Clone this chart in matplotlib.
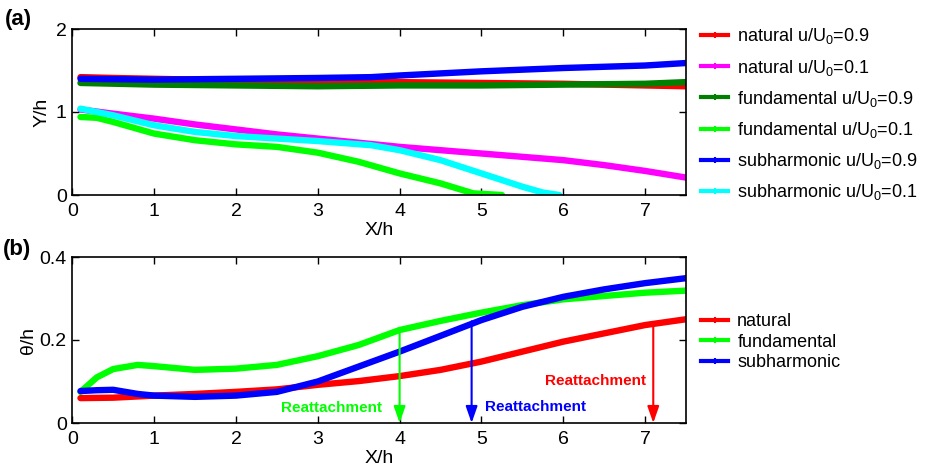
import matplotlib
matplotlib.use("Agg")
import matplotlib.pyplot as plt
from matplotlib.lines import Line2D

plt.rcParams['font.family'] = ['Liberation Sans', 'DejaVu Sans']
plt.rcParams['mathtext.fontset'] = 'custom'
plt.rcParams['mathtext.rm'] = 'Liberation Sans'
plt.rcParams['mathtext.it'] = 'Liberation Sans:italic'

# ---------------- data panel (a) ----------------
xa_nat09 = [0.1, 0.5, 1, 2, 3, 4, 5, 6, 6.5, 7, 7.5]
ya_nat09 = [1.42, 1.41, 1.40, 1.38, 1.37, 1.36, 1.35, 1.34, 1.33, 1.32, 1.31]

xa_nat01 = [0.1, 0.5, 1, 1.5, 2, 2.5, 3, 3.5, 4, 4.5, 5, 5.5, 6, 6.5, 7, 7.5]
ya_nat01 = [1.03, 0.98, 0.92, 0.85, 0.79, 0.73, 0.68, 0.63, 0.58, 0.54, 0.50, 0.46, 0.42, 0.36, 0.29, 0.21]

xa_fun09 = [0.1, 1, 2, 3, 4, 5, 6, 7, 7.5]
ya_fun09 = [1.35, 1.33, 1.32, 1.31, 1.32, 1.32, 1.33, 1.34, 1.36]

xa_fun01 = [0.1, 0.3, 0.5, 1, 1.5, 2, 2.5, 3, 3.5, 4, 4.5, 4.9, 5.25]
ya_fun01 = [0.94, 0.93, 0.88, 0.74, 0.66, 0.61, 0.58, 0.51, 0.40, 0.26, 0.14, 0.02, 0.0]

xa_sub09 = [0.1, 1, 2, 3, 3.65, 4, 5, 6, 7, 7.5]
ya_sub09 = [1.40, 1.39, 1.40, 1.41, 1.42, 1.44, 1.49, 1.53, 1.56, 1.59]

xa_sub01 = [0.1, 0.5, 1, 1.5, 2, 2.5, 3, 3.65, 4, 4.5, 5, 5.5, 5.75, 5.95]
ya_sub01 = [1.04, 0.96, 0.84, 0.76, 0.71, 0.68, 0.65, 0.60, 0.54, 0.42, 0.26, 0.10, 0.03, 0.0]

# ---------------- data panel (b) ----------------
xb_nat = [0.1, 0.5, 1, 1.5, 2, 2.5, 3, 3.5, 4, 4.5, 5, 5.5, 6, 6.5, 7, 7.5]
yb_nat = [0.060, 0.061, 0.066, 0.070, 0.075, 0.081, 0.092, 0.101, 0.113, 0.128, 0.148, 0.172, 0.196, 0.216, 0.236, 0.250]

xb_fun = [0.1, 0.3, 0.5, 0.8, 1, 1.5, 2, 2.5, 3, 3.5, 4, 4.5, 5, 5.5, 6, 6.5, 7, 7.5]
yb_fun = [0.075, 0.110, 0.130, 0.140, 0.137, 0.128, 0.131, 0.140, 0.161, 0.188, 0.224, 0.246, 0.266, 0.284, 0.298, 0.306, 0.314, 0.319]

xb_sub = [0.1, 0.3, 0.5, 0.8, 1, 1.5, 2, 2.5, 3, 3.5, 4, 4.5, 5, 5.5, 6, 6.5, 7, 7.5]
yb_sub = [0.077, 0.079, 0.080, 0.070, 0.066, 0.063, 0.066, 0.075, 0.100, 0.136, 0.172, 0.210, 0.248, 0.280, 0.304, 0.322, 0.337, 0.349]

reattach_x = [4.0, 4.88, 7.1]
reattach_y = [0.222, 0.245, 0.235]
reattach_colors = ['#00ff00', '#0000ff', '#ff0000']

labels_a = ['natural u/U$_0$=0.9', 'natural u/U$_0$=0.1',
            'fundamental u/U$_0$=0.9', 'fundamental u/U$_0$=0.1',
            'subharmonic u/U$_0$=0.9', 'subharmonic u/U$_0$=0.1']
colors_a = ['#ff0000', '#ff00ff', '#007f00', '#00ff00', '#0000ff', '#00ffff']
labels_b = ['natural', 'fundamental', 'subharmonic']
colors_b = ['#ff0000', '#00ff00', '#0000ff']

fig = plt.figure(figsize=(9.35, 4.67), dpi=100)
L, R = 72.3 / 935, 686 / 935
axa = fig.add_axes([L, 1 - 195 / 467, R - L, 166 / 467])
axb = fig.add_axes([L, 1 - 423 / 467, R - L, 166 / 467])

LW = 4.6
series_a = [(xa_nat09, ya_nat09), (xa_nat01, ya_nat01), (xa_fun09, ya_fun09),
            (xa_fun01, ya_fun01), (xa_sub09, ya_sub09), (xa_sub01, ya_sub01)]
draw_order = [1, 3, 5, 0, 2, 4]
for i in draw_order:
    x, y = series_a[i]
    axa.plot(x, y, color=colors_a[i], lw=LW, solid_capstyle='round',
             solid_joinstyle='round', label=labels_a[i])

series_b = [(xb_nat, yb_nat), (xb_fun, yb_fun), (xb_sub, yb_sub)]
for i, (x, y) in enumerate(series_b):
    axb.plot(x, y, color=colors_b[i], lw=LW, solid_capstyle='round',
             solid_joinstyle='round', label=labels_b[i])

for xr, yr, c in zip(reattach_x, reattach_y, reattach_colors):
    axb.annotate('', xy=(xr, 0.0), xytext=(xr, yr),
                 arrowprops=dict(arrowstyle='-|>,head_length=1.0,head_width=0.35',
                                 color=c, lw=1.5, shrinkA=0, shrinkB=0))

axb.text(3.78, 0.036, 'Reattachment', color='#00ff00', fontsize=11, fontweight='bold',
         ha='right', va='center')
axb.text(5.04, 0.038, 'Reattachment', color='#0000ff', fontsize=11, fontweight='bold',
         ha='left', va='center')
axb.text(6.39, 0.101, 'Reattachment', color='#ff0000', fontsize=11, fontweight='bold',
         ha='center', va='center')

for ax in (axa, axb):
    ax.set_xlim(0, 7.5)
    ax.set_xticks(range(0, 8))
    ax.tick_params(axis='x', direction='in', top=True, length=5, width=1,
                   labelsize=14, pad=6)
    ax.tick_params(axis='y', direction='in', right=True, length=5, width=1,
                   labelsize=14, pad=4)
    for s in ax.spines.values():
        s.set_linewidth(1.2)
    ax.set_xlabel('X/h', fontsize=14, labelpad=1)

axa.set_ylim(0, 2)
axa.set_yticks([0, 1, 2])
axa.set_ylabel('Y/h', fontsize=14, labelpad=4)
axb.set_ylim(0, 0.4)
axb.set_yticks([0, 0.2, 0.4])
axb.set_yticklabels(['0', '0.2', '0.4'])
axb.set_ylabel('θ/h', fontsize=14, labelpad=2)

leg_a = [Line2D([], [], color=c, lw=3, marker='+', markersize=5, mew=1.5) for c in colors_a]
axa.legend(leg_a, labels_a, loc='upper left', bbox_to_anchor=(1.01, 1.07), frameon=False,
           fontsize=13, handlelength=1.5, handletextpad=0.5, labelspacing=0.62, borderpad=0)
leg_b = [Line2D([], [], color=c, lw=3, marker='+', markersize=5, mew=1.5) for c in colors_b]
axb.legend(leg_b, labels_b, loc='upper left', bbox_to_anchor=(1.01, 0.716), frameon=False,
           fontsize=13, handlelength=1.5, handletextpad=0.5, labelspacing=0.2, borderpad=0)

fig.text(5 / 935, 1 - 20 / 467, '(a)', fontsize=16, fontweight='bold', va='center', ha='left')
fig.text(3 / 935, 1 - 249 / 467, '(b)', fontsize=16, fontweight='bold', va='center', ha='left')

fig.savefig('out.png', dpi=100)
